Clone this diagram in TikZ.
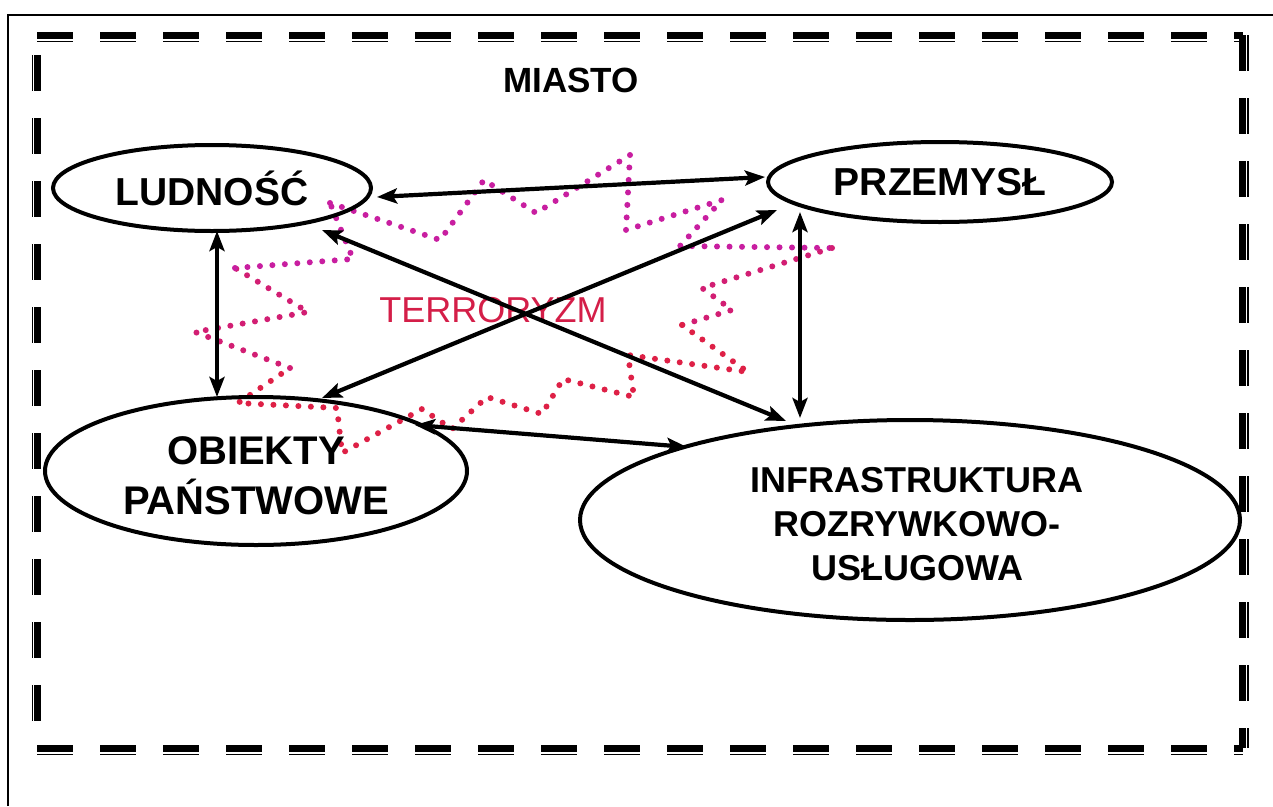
\documentclass[tikz,border=0pt]{standalone}
\usepackage{fontspec}
\setmainfont{Liberation Sans}
\usetikzlibrary{arrows.meta,shapes.geometric,calc}
\definecolor{terr}{RGB}{212,30,72}
\definecolor{dotmag}{RGB}{200,30,160}
\definecolor{dotmid}{RGB}{210,30,115}
\definecolor{dotred}{RGB}{222,32,70}
\begin{document}
\begin{tikzpicture}[x=1pt,y=-1pt,
  ell/.style={ellipse, draw, line width=4pt, inner sep=0pt},
  lbl/.style={font=\bfseries\fontsize{40}{50}\selectfont, align=center},
  dbl/.style={line width=4.2pt, {Stealth[length=20pt,width=15pt,inset=4pt]}-{Stealth[length=20pt,width=15pt,inset=4pt]}},
  framethick/.style={line width=6.6pt, dash pattern=on 36pt off 27pt},
  framethin/.style={line width=1.4pt, dash pattern=on 36pt off 27pt},
  dots/.style={line width=6pt, line cap=round, line join=round, dash pattern=on 0pt off 12.5pt},
]
\useasboundingbox (0,0) rectangle (1273,806);
\fill[white] (0,0) rectangle (1273,806);

% outer thin frame
\draw[line width=1.5pt] (8,806) -- (8,15) -- (1273,15);

% dashed frame (thick + thin)
\draw[framethick] (37,35.5) -- (1243,35.5);
\draw[framethin]  (37,41.3) -- (1243,41.3);
\draw[framethick] (37,748.3) -- (1243,748.3);
\draw[framethin]  (37,754.2) -- (1243,754.2);
\draw[framethick, dash phase=43pt] (37.5,35) -- (37.5,748);
\draw[framethin, dash phase=43pt]  (32.5,35) -- (32.5,748);
\draw[framethick] (1242.7,35) -- (1242.7,748);
\draw[framethin]  (1247.8,35) -- (1247.8,748);

% dotted zigzag ring
\draw[dots, dotmag] (330,203) -- (440,240) -- (484,180) -- (536,213) -- (630,155) -- (626,230) -- (722,200) -- (680,246) -- (832,248);
\draw[dots, dotmid] (832,248) -- (702,288) -- (732,310) -- (682,325);
\draw[dots, dotred] (682,325) -- (748,372) -- (628,355) -- (634,397) -- (563,379) -- (542,414) -- (487,397) -- (452,429) -- (422,409) -- (342,453) -- (337,408) -- (238,403) -- (290,368);
\draw[dots, dotmid] (290,368) -- (195,332) -- (308,312) -- (235,268);
\draw[dots, dotmag] (235,268) -- (353,259) -- (330,203);

% texts
\node[font=\bfseries\fontsize{35}{40}\selectfont] (miasto) at (571,80) {MIASTO};
\node[text=terr, font=\fontsize{36}{40}\selectfont] (terror) at (493,310) {TERRORYZM};

% ellipses
\node[ell, lbl, font=\bfseries\fontsize{39}{44}\selectfont, minimum width=318pt, minimum height=86pt] (lud) at (212,188) {LUDNOŚĆ};
\node[ell, lbl, font=\bfseries\fontsize{39}{44}\selectfont, minimum width=344pt, minimum height=80pt] (prz) at (940,182) {PRZEMYSŁ};
\node[ell, minimum width=422pt, minimum height=148pt,
      label={[lbl, yshift=-5pt]center:{OBIEKTY\\PAŃSTWOWE}}] (obj) at (256,471) {};
\node[ell, minimum width=660pt, minimum height=200pt,
      label={[lbl, font=\bfseries\fontsize{36}{44}\selectfont, xshift=7pt, yshift=-4pt]center:{INFRASTRUKTURA\\ROZRYWKOWO-\\USŁUGOWA}}] (inf) at (910,520) {};

% connectors
\draw[dbl] ($(lud.center)+(165,9)$) -- ($(prz.center)+(-175,-5)$);
\draw[dbl] ($(lud.center)+(5,43)$) -- ($(obj.center)+(-39,-74)$);
\draw[dbl] ($(prz.center)+(-140,30)$) -- ($(inf.center)+(-110,-102)$);
\draw[dbl] ($(lud.center)+(110,42)$) -- ($(inf.center)+(-124,-99)$);
\draw[dbl] ($(prz.center)+(-163,28)$) -- ($(obj.center)+(66,-73)$);
\draw[dbl] ($(obj.center)+(159,-46)$) -- ($(inf.center)+(-223,-73)$);
\end{tikzpicture}
\end{document}
